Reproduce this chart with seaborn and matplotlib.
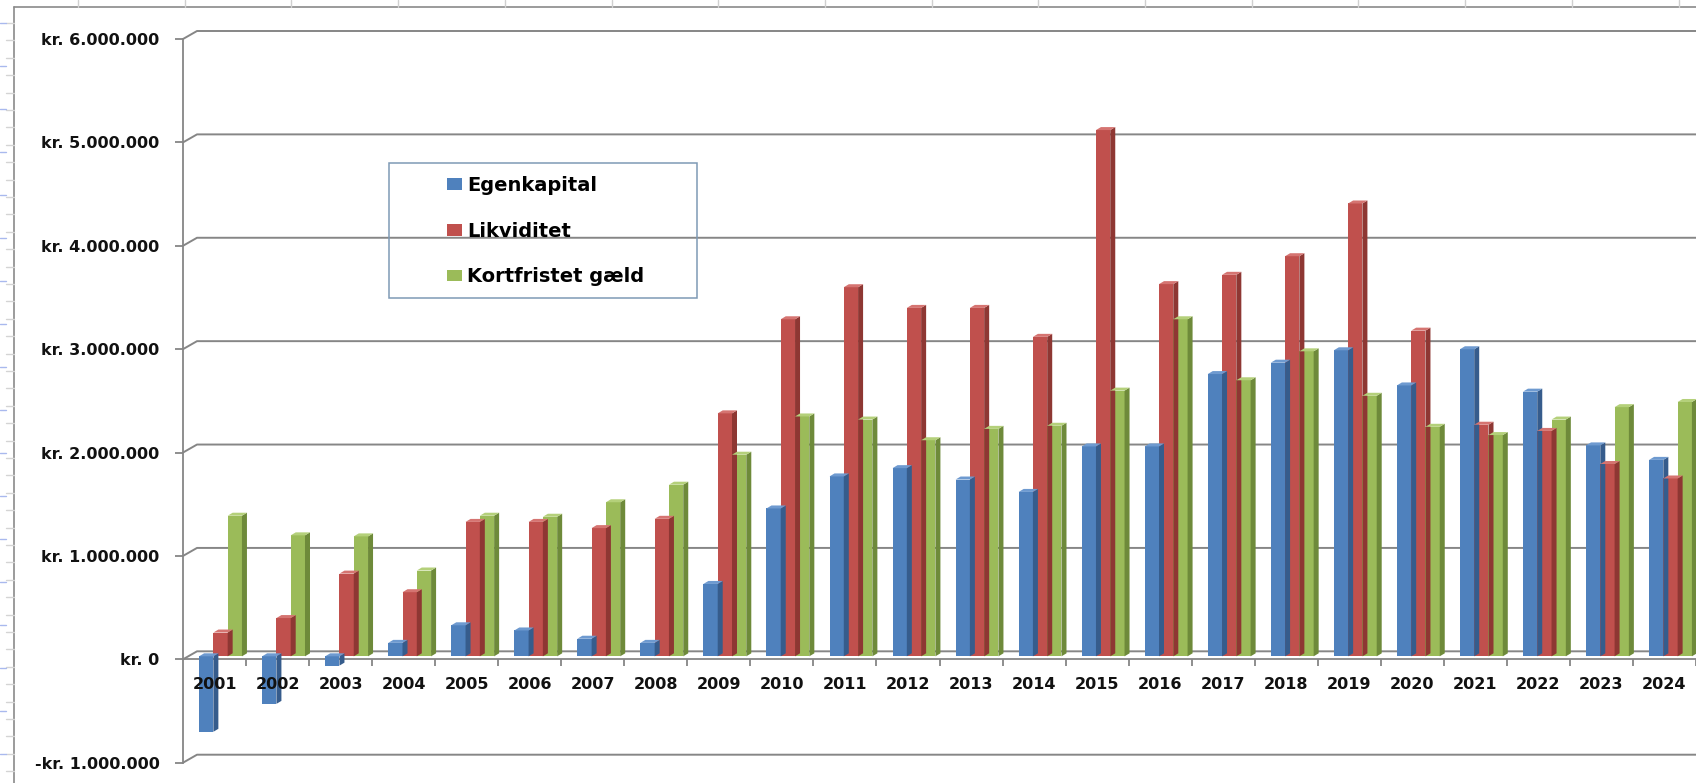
import matplotlib
matplotlib.use("Agg")
import matplotlib.pyplot as plt
from matplotlib.patches import Polygon, Rectangle, Patch
from matplotlib.lines import Line2D
from matplotlib.transforms import ScaledTranslation, IdentityTransform
from matplotlib.colors import to_rgba
import seaborn as sns
import pandas as pd

# values (kr.)
years = [str(y) for y in range(2001, 2025)]
egenkapital = [-730000, -460000, -90000, 130000, 300000, 250000, 170000, 130000,
               700000, 1430000, 1740000, 1820000, 1710000, 1590000, 2030000, 2030000,
               2730000, 2840000, 2960000, 2620000, 2970000, 2560000, 2040000, 1900000]
likviditet = [230000, 370000, 800000, 620000, 1300000, 1300000, 1240000, 1330000,
              2350000, 3260000, 3570000, 3370000, 3370000, 3090000, 5090000, 3600000,
              3690000, 3870000, 4380000, 3150000, 2240000, 2180000, 1860000, 1720000]
kortfristet = [1360000, 1170000, 1160000, 830000, 1360000, 1350000, 1490000, 1660000,
               1950000, 2320000, 2290000, 2090000, 2200000, 2230000, 2570000, 3260000,
               2670000, 2950000, 2520000, 2220000, 2140000, 2290000, 2410000, 2460000]
series = ["Egenkapital", "Likviditet", "Kortfristet gæld"]
yticks = [-1000000, 0, 1000000, 2000000, 3000000, 4000000, 5000000, 6000000]
ytick_labels = ["-kr. 1.000.000", "kr. 0", "kr. 1.000.000", "kr. 2.000.000",
                "kr. 3.000.000", "kr. 4.000.000", "kr. 5.000.000", "kr. 6.000.000"]

colors = ["#4F81BD", "#C0504D", "#9BBB59"]
side_colors = ["#365C8C", "#8E3733", "#6E8A3A"]
top_colors = ["#6E9AD0", "#D57471", "#B4D07A"]
grid_c = "#868686"

df = pd.DataFrame({
    "year": years * 3,
    "value": egenkapital + likviditet + kortfristet,
    "serie": [s for s in series for _ in years],
})

sns.set_theme(style="white")
plt.rcParams["font.family"] = ["DejaVu Sans"]

W, H = 1696, 783
fig = plt.figure(figsize=(W / 100, H / 100), dpi=100)
fig.patch.set_facecolor("white")
front_top, front_bot, ax_left = 39, 762.7, 183
ax = fig.add_axes([ax_left / W, (H - front_bot) / H, (W - ax_left) / W, (front_bot - front_top) / H])
ax.set_facecolor("none")

sns.barplot(data=df, x="year", y="value", hue="serie", palette=colors, width=0.68,
            saturation=1, errorbar=None, legend=False, ax=ax, zorder=3, linewidth=0)
ax.set_xlim(-0.5, 23.48)
ax.set_ylim(-1000000, 6000000)

# axes styling: front plane
for s in ["top", "right"]:
    ax.spines[s].set_visible(False)
ax.spines["left"].set_color(grid_c)
ax.spines["left"].set_linewidth(1.3)
ax.spines["bottom"].set_position(("data", 0))
ax.spines["bottom"].set_color(grid_c)
ax.spines["bottom"].set_linewidth(1.3)
ax.spines["bottom"].set_zorder(2)

ax.set_yticks(yticks)
ax.set_yticklabels(ytick_labels, fontsize=11.5, fontweight="bold", color="#111111")
ax.tick_params(axis="y", length=6, width=1.3, color=grid_c, pad=11, left=True)
ax.set_xticks(range(len(years)))
ax.set_xticklabels(years, fontsize=11.5, fontweight="bold", color="#111111")
ax.set_xticks([i + 0.5 for i in range(len(years))], minor=True)
ax.tick_params(axis="x", which="major", length=0, pad=12.5)
ax.tick_params(axis="x", which="minor", length=5, width=1.3, color=grid_c, bottom=True)
ax.xaxis.set_zorder(6)
ax.set_xlabel("")
ax.set_ylabel("")
ax.grid(False)

fig.canvas.draw()
ident = IdentityTransform()

# back wall gridlines with little diagonal from the front plane
depth_x, depth_y = 14, 8
for v in yticks:
    xf, yf = ax.transData.transform((-0.5, v))
    ax.add_line(Line2D([xf, xf + depth_x, W], [yf, yf + depth_y, yf + depth_y],
                       transform=ident, color=grid_c, lw=1.4, zorder=1, clip_on=False))

# pseudo 3D bars: shift to mid depth and add side and top faces
bdx, bdy = 6, 3
sx, sy = 5, 3
rgba = [to_rgba(c) for c in colors]
for p in list(ax.patches):
    fc = p.get_facecolor()
    k = min(range(3), key=lambda i: sum(abs(a - b) for a, b in zip(fc, rgba[i])))
    x0, y0, w, h = p.get_x(), p.get_y(), p.get_width(), p.get_height()
    lo, hi = min(y0, y0 + h), max(y0, y0 + h)
    p.set_transform(ax.transData + ScaledTranslation(bdx / 100, bdy / 100, fig.dpi_scale_trans))
    xl, ylo = ax.transData.transform((x0, lo))
    xr, yhi = ax.transData.transform((x0 + w, hi))
    xl, xr, ylo, yhi = xl + bdx, xr + bdx, ylo + bdy, yhi + bdy
    ax.add_patch(Polygon([(xr, ylo), (xr, yhi), (xr + sx, yhi + sy), (xr + sx, ylo + sy)],
                         closed=True, transform=ident, facecolor=side_colors[k],
                         edgecolor="none", zorder=3, clip_on=False))
    ax.add_patch(Polygon([(xl, yhi), (xr, yhi), (xr + sx, yhi + sy), (xl + sx, yhi + sy)],
                         closed=True, transform=ident, facecolor=top_colors[k],
                         edgecolor="none", zorder=3, clip_on=False))

# legend without fill, with a thin frame drawn separately
handles = [Patch(facecolor=c, edgecolor="none") for c in colors]
leg = fig.legend(handles, series, loc="upper left", bbox_to_anchor=(447 / W, 1 - 176 / H),
                 bbox_transform=fig.transFigure, frameon=False,
                 prop=dict(weight="bold", size=14), handlelength=0.75, handleheight=0.55,
                 handletextpad=0.3, labelspacing=1.37, borderpad=0, borderaxespad=0)
for t in leg.get_texts():
    t.set_color("#000000")
fig.add_artist(Rectangle((389 / W, 1 - 298 / H), 308 / W, 135 / H, transform=fig.transFigure,
                         fill=False, edgecolor="#7E9AB5", lw=1.1))

# spreadsheet around the chart object
fig.add_artist(Line2D([14 / W, 1], [1 - 7 / H] * 2, transform=fig.transFigure, color="#8A8A8A", lw=1.2))
fig.add_artist(Line2D([14 / W] * 2, [0, 1 - 7 / H], transform=fig.transFigure, color="#8A8A8A", lw=1.2))
x = 78.0
while x < W:
    fig.add_artist(Line2D([x / W] * 2, [1, 1 - 7 / H], transform=fig.transFigure, color="#D0D0D0", lw=1))
    x += 106.7
y = 23.0
while y < H:
    fig.add_artist(Line2D([6 / W, 14 / W], [1 - y / H] * 2, transform=fig.transFigure, color="#D4D4D4", lw=1))
    y += 17.4
y = 23.0
while y < H:
    fig.add_artist(Line2D([0, 6 / W], [1 - y / H] * 2, transform=fig.transFigure, color="#A9B9EE", lw=1))
    y += 43.0

fig.savefig("out.png", dpi=100)
